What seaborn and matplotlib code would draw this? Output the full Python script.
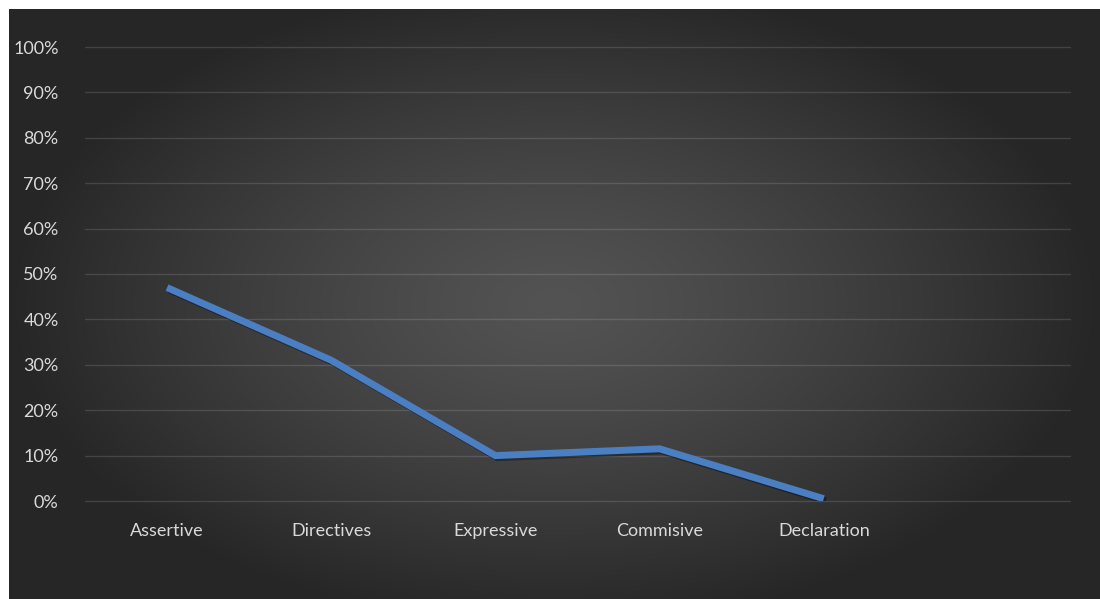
import numpy as np
import pandas as pd
import matplotlib
matplotlib.use("Agg")
import matplotlib.pyplot as plt
import matplotlib.patheffects as pe
import seaborn as sns

categories = ["Assertive", "Directives", "Expressive", "Commisive", "Declaration"]
shares = [0.47, 0.31, 0.10, 0.115, 0.005]
y_ticks = [0.0, 0.1, 0.2, 0.3, 0.4, 0.5, 0.6, 0.7, 0.8, 0.9, 1.0]
y_labels = ["0%", "10%", "20%", "30%", "40%", "50%", "60%", "70%", "80%", "90%", "100%"]

df = pd.DataFrame({"category": categories, "share": shares})

sns.set_style("dark")
plt.rcParams["font.family"] = ["Lato", "DejaVu Sans"]

W, H = 1100, 599
fig = plt.figure(figsize=(W / 100, H / 100), dpi=100, facecolor="white")

# radial gradient background (light centre, dark edges)
bg = fig.add_axes([9 / W, 0, 1 - 9 / W, 1 - 9 / H])
gx, gy = np.meshgrid(np.linspace(-1, 1, 600), np.linspace(-1, 1, 330))
r = np.sqrt((gx / 1.0) ** 2 + (gy / 1.1) ** 2)
r = np.clip(r, 0, 1)
shade = 0.325 - 0.175 * r ** 1.3
bg.imshow(np.dstack([shade, shade, shade]), aspect="auto", extent=[0, 1, 0, 1],
          interpolation="bicubic")
bg.set_axis_off()

ax = fig.add_axes([85 / W, 98 / H, 985 / W, 454 / H])
ax.patch.set_alpha(0)

sns.lineplot(data=df, x="category", y="share", ax=ax, color="#4a7fc4",
             linewidth=5.0, sort=False,
             path_effects=[pe.SimpleLineShadow(offset=(1.5, -1.5), alpha=0.35,
                                               shadow_color="black"),
                           pe.Normal()])
ax.lines[0].set_solid_joinstyle("miter")
ax.lines[0].set_solid_capstyle("butt")

ax.set_xlim(-0.5, 5.5)
ax.set_ylim(0, 1)
ax.set_yticks(y_ticks)
ax.set_yticklabels(y_labels)
ax.set_xticks(range(len(categories)))
ax.set_xticklabels(categories)
ax.set_xlabel("")
ax.set_ylabel("")

ax.grid(axis="y", color="white", alpha=0.13, linewidth=1.0)
ax.grid(axis="x", visible=False)
for gl in ax.get_ygridlines():
    gl.set_clip_on(False)
ax.set_axisbelow(True)
for s in ax.spines.values():
    s.set_visible(False)

ax.tick_params(axis="y", length=0, pad=19, labelsize=13, labelcolor="#d9d9d9")
ax.tick_params(axis="x", length=0, pad=16, labelsize=13, labelcolor="#d9d9d9")

fig.savefig("out.png", dpi=100, facecolor="white")
